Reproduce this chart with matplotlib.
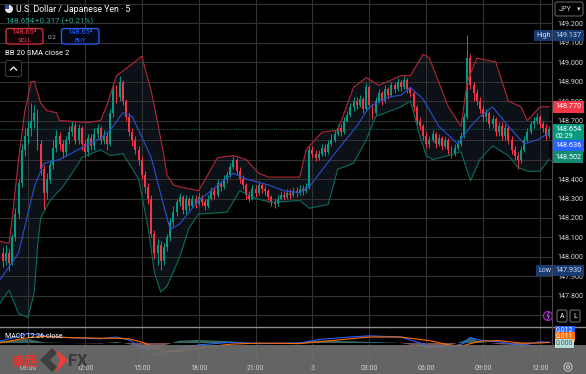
import numpy as np
import pandas as pd
import matplotlib
matplotlib.use('Agg')
import matplotlib.pyplot as plt
import matplotlib.transforms as mtransforms
from matplotlib.patches import Rectangle, FancyBboxPatch, Circle, Polygon

plt.rcParams['font.family'] = ['Roboto', 'Noto Sans CJK JP', 'DejaVu Sans']

# USD/JPY, 10-min candles starting 07:40
first_open = 148.02
close = [147.98, 148.02, 147.97, 148.10, 148.22, 148.38, 148.55, 148.62, 148.66, 148.70,
         148.74, 148.58, 148.45, 148.33, 148.40, 148.47, 148.56, 148.62, 148.58, 148.54,
         148.60, 148.64, 148.67, 148.60, 148.66, 148.58, 148.54, 148.61, 148.57, 148.63,
         148.66, 148.60, 148.62, 148.58, 148.74, 148.86, 148.82, 148.90, 148.80, 148.72,
         148.64, 148.60, 148.55, 148.50, 148.42, 148.36, 148.30, 148.12, 148.02, 148.06,
         147.98, 148.05, 148.10, 148.18, 148.23, 148.28, 148.31, 148.24, 148.30, 148.26,
         148.30, 148.27, 148.31, 148.28, 148.26, 148.30, 148.34, 148.32, 148.38, 148.36,
         148.40, 148.42, 148.46, 148.50, 148.44, 148.40, 148.37, 148.32, 148.30, 148.35,
         148.33, 148.37, 148.35, 148.34, 148.31, 148.28, 148.27, 148.30, 148.32, 148.31,
         148.33, 148.32, 148.34, 148.33, 148.35, 148.34, 148.36, 148.55, 148.53, 148.51,
         148.53, 148.56, 148.54, 148.58, 148.60, 148.63, 148.66, 148.64, 148.70, 148.73,
         148.77, 148.80, 148.78, 148.81, 148.76, 148.87, 148.78, 148.74, 148.80, 148.84,
         148.80, 148.86, 148.83, 148.88, 148.86, 148.90, 148.87, 148.91, 148.86, 148.84,
         148.77, 148.70, 148.67, 148.62, 148.58, 148.60, 148.63, 148.58, 148.61, 148.57,
         148.60, 148.55, 148.53, 148.56, 148.58, 148.62, 148.72, 149.02, 148.88, 148.84,
         148.80, 148.76, 148.72, 148.74, 148.68, 148.71, 148.64, 148.67, 148.62, 148.66,
         148.60, 148.55, 148.52, 148.50, 148.55, 148.60, 148.64, 148.68, 148.70, 148.72,
         148.68, 148.66, 148.62, 148.654]
high = [148.05, 148.06, 148.04, 148.12, 148.25, 148.40, 148.58, 148.66, 148.70, 148.79,
        148.78, 148.76, 148.60, 148.47, 148.43, 148.50, 148.60, 148.65, 148.64, 148.60,
        148.62, 148.67, 148.70, 148.69, 148.68, 148.67, 148.60, 148.63, 148.63, 148.66,
        148.68, 148.67, 148.65, 148.64, 148.76, 148.88, 148.88, 148.93, 148.91, 148.81,
        148.74, 148.66, 148.62, 148.57, 148.52, 148.44, 148.38, 148.32, 148.14, 148.09,
        148.08, 148.07, 148.12, 148.20, 148.26, 148.30, 148.33, 148.32, 148.32, 148.31,
        148.32, 148.32, 148.33, 148.32, 148.30, 148.32, 148.36, 148.36, 148.40, 148.39,
        148.42, 148.44, 148.48, 148.52, 148.51, 148.46, 148.42, 148.38, 148.34, 148.37,
        148.37, 148.39, 148.38, 148.37, 148.35, 148.32, 148.30, 148.32, 148.34, 148.34,
        148.35, 148.35, 148.36, 148.36, 148.37, 148.37, 148.38, 148.57, 148.57, 148.55,
        148.55, 148.58, 148.58, 148.60, 148.63, 148.65, 148.68, 148.68, 148.72, 148.75,
        148.79, 148.82, 148.82, 148.83, 148.82, 148.89, 148.88, 148.79, 148.82, 148.86,
        148.85, 148.88, 148.87, 148.90, 148.89, 148.92, 148.91, 148.93, 148.92, 148.87,
        148.85, 148.78, 148.72, 148.68, 148.64, 148.62, 148.65, 148.64, 148.63, 148.62,
        148.62, 148.61, 148.57, 148.58, 148.60, 148.64, 148.74, 149.137, 149.04, 148.90,
        148.86, 148.82, 148.78, 148.76, 148.75, 148.73, 148.72, 148.69, 148.69, 148.68,
        148.67, 148.62, 148.57, 148.54, 148.57, 148.62, 148.66, 148.70, 148.72, 148.74,
        148.73, 148.70, 148.68, 148.67]
low = [147.95, 147.96, 147.93, 147.96, 148.08, 148.20, 148.36, 148.52, 148.58, 148.62,
       148.66, 148.55, 148.42, 148.24, 148.30, 148.38, 148.45, 148.54, 148.55, 148.51,
       148.52, 148.58, 148.62, 148.58, 148.58, 148.55, 148.51, 148.52, 148.55, 148.55,
       148.61, 148.58, 148.58, 148.55, 148.57, 148.72, 148.79, 148.80, 148.78, 148.70,
       148.62, 148.57, 148.53, 148.47, 148.40, 148.33, 148.27, 148.10, 147.99, 147.96,
       147.934, 147.96, 148.03, 148.08, 148.16, 148.21, 148.26, 148.22, 148.22, 148.24,
       148.25, 148.25, 148.26, 148.26, 148.24, 148.25, 148.29, 148.30, 148.31, 148.34,
       148.35, 148.38, 148.41, 148.45, 148.42, 148.38, 148.35, 148.30, 148.28, 148.29,
       148.31, 148.32, 148.33, 148.32, 148.29, 148.26, 148.25, 148.26, 148.29, 148.29,
       148.30, 148.30, 148.31, 148.31, 148.32, 148.32, 148.33, 148.35, 148.51, 148.49,
       148.50, 148.52, 148.52, 148.53, 148.57, 148.59, 148.62, 148.62, 148.63, 148.69,
       148.72, 148.75, 148.76, 148.77, 148.74, 148.75, 148.76, 148.71, 148.73, 148.79,
       148.78, 148.79, 148.81, 148.82, 148.84, 148.85, 148.85, 148.86, 148.84, 148.82,
       148.75, 148.68, 148.65, 148.60, 148.56, 148.56, 148.59, 148.56, 148.57, 148.55,
       148.56, 148.53, 148.51, 148.52, 148.55, 148.57, 148.61, 148.71, 148.86, 148.80,
       148.78, 148.74, 148.70, 148.70, 148.66, 148.66, 148.62, 148.62, 148.60, 148.60,
       148.58, 148.53, 148.50, 148.45, 148.48, 148.54, 148.59, 148.63, 148.66, 148.68,
       148.66, 148.64, 148.60, 148.61]

# Bollinger bands (20, 2), positions in candle index
bb_upper_idx = [-1, 2, 3, 5, 7, 8, 9, 10, 12, 14, 17, 18, 27, 31, 33, 36, 41, 44, 47, 49, 51, 52,
                54, 56, 62, 68, 73, 77, 81, 84, 94, 96, 101, 106, 111, 115, 119, 126, 129, 133,
                135, 141, 145, 147, 150, 156, 160, 164, 166, 170, 173]
bb_upper = [148.08, 148.07, 148.20, 148.50, 148.75, 148.82, 148.90, 148.90, 148.79, 148.75, 148.74,
            148.70, 148.69, 148.70, 148.78, 148.93, 148.99, 149.03, 148.85, 148.69, 148.52, 148.42,
            148.37, 148.36, 148.34, 148.51, 148.52, 148.50, 148.43, 148.41, 148.41, 148.55, 148.64,
            148.65, 148.87, 148.92, 148.88, 148.93, 148.93, 149.04, 149.02, 148.77, 148.67, 148.90,
            149.02, 149.00, 148.80, 148.77, 148.70, 148.77, 148.77]
bb_mid_idx = [-1, 5, 10, 13, 18, 25, 31, 34, 38, 41, 47, 51, 53, 56, 62, 73, 77, 84, 89, 94, 97,
              105, 112, 116, 122, 126, 129, 133, 138, 144, 148, 151, 155, 160, 165, 169, 173]
bb_mid = [147.88, 148.02, 148.36, 148.48, 148.50, 148.56, 148.61, 148.65, 148.74, 148.72, 148.51,
          148.26, 148.14, 148.17, 148.29, 148.43, 148.40, 148.37, 148.34, 148.33, 148.36, 148.53,
          148.67, 148.77, 148.82, 148.83, 148.87, 148.81, 148.67, 148.58, 148.67, 148.72, 148.77,
          148.67, 148.58, 148.60, 148.636]
bb_lower_idx = [-1, 2, 5, 8, 10, 11, 12, 15, 19, 24, 25, 31, 34, 38, 43, 46, 48, 50, 52, 56, 59,
                62, 71, 75, 80, 85, 94, 97, 103, 106, 111, 115, 118, 126, 129, 132, 134, 136, 141,
                145, 148, 151, 155, 160, 163, 166, 170, 173]
bb_lower = [147.76, 147.83, 147.71, 147.69, 147.82, 148.05, 148.20, 148.29, 148.36, 148.48, 148.51,
            148.55, 148.52, 148.53, 148.40, 148.15, 147.92, 147.82, 147.85, 148.00, 148.15, 148.22,
            148.23, 148.34, 148.30, 148.28, 148.29, 148.25, 148.27, 148.45, 148.48, 148.60, 148.72,
            148.77, 148.80, 148.62, 148.52, 148.50, 148.52, 148.54, 148.39, 148.50, 148.57, 148.52,
            148.46, 148.44, 148.44, 148.502]

# MACD 12 26
macd_idx = [-1, 4, 8, 13, 21, 31, 36, 40, 45, 48, 51, 56, 62, 72, 81, 94, 100, 110, 116, 126,
            135, 142, 146, 148, 151, 157, 164, 170, 173]
macd = [0.03, 0.10, 0.16, 0.12, 0.09, 0.07, 0.10, 0.05, -0.10, -0.20, -0.18, -0.10, -0.03, 0.01,
        -0.01, 0.00, 0.06, 0.10, 0.12, 0.10, -0.05, -0.07, 0.00, 0.09, 0.05, 0.02, -0.04, 0.02, 0.012]
signal = [0.00, 0.05, 0.09, 0.11, 0.09, 0.08, 0.08, 0.07, 0.00, -0.08, -0.14, -0.14, -0.08, -0.02,
          0.00, -0.01, 0.02, 0.07, 0.10, 0.10, 0.04, -0.04, -0.04, -0.01, 0.03, 0.04, 0.00, 0.00, 0.011]

price_ticks = np.round(np.arange(147.7, 149.31, 0.1), 1)

W, H = 586, 374
UP, DOWN = '#089981', '#f23645'
GRID = '#333333'
TXT = '#d1d4dc'


def rect(x0, y0, x1, y1):
    return [x0 / W, 1 - y1 / H, (x1 - x0) / W, (y1 - y0) / H]


fig = plt.figure(figsize=(W / 100, H / 100), dpi=100, facecolor='black')
ax = fig.add_axes(rect(0, 0, 552, 327))
axm = fig.add_axes(rect(0, 327, 552, 360), sharex=ax)

c = np.array(close)
o = np.r_[first_open, c[:-1]]
hi, lo = np.array(high), np.array(low)
idx = np.arange(len(c))
times = pd.date_range('2023-10-02 07:40', periods=len(c), freq='10min')
cols = np.where(c >= o, UP, DOWN)

ax.set_facecolor('black')
band = np.vstack([np.column_stack([bb_upper_idx, bb_upper]),
                  np.column_stack([bb_lower_idx, bb_lower])[::-1]])
ax.add_patch(Polygon(band, closed=True, fc='#0c1117', ec='none', zorder=1))
ax.vlines(idx, lo, hi, colors=cols, lw=0.7, zorder=3)
ax.bar(idx, np.maximum(np.abs(c - o), 0.005), bottom=np.minimum(o, c), width=0.62,
       color=cols, lw=0, zorder=3)
ax.plot(bb_upper_idx, bb_upper, color='#b22833', lw=0.8, zorder=4)
ax.plot(bb_mid_idx, bb_mid, color='#2a4fd0', lw=0.8, zorder=4)
ax.plot(bb_lower_idx, bb_lower, color='#0b6e5a', lw=0.8, zorder=4)
ax.axhline(c[-1], color='#0b5e4e', lw=0.8, ls=(0, (1, 1)), zorder=2)

# time ticks every 3 hours
tick_mask = (times.minute == 0) & (times.hour % 3 == 0)
tick_pos = idx[tick_mask]
tick_lab = [str(t.day) if t.hour == 0 else t.strftime('%H:%M') for t in times[tick_mask]]

ax.set_xlim(-0.86, 173.8)
ax.set_ylim(147.641, 149.318)
ax.set_xticks(tick_pos)
ax.set_yticks(price_ticks)
hidden = (147.7, 148.5, 148.6, 149.3)
ax.set_yticklabels(['' if p in hidden else f'{p:.3f}' for p in price_ticks])
ax.yaxis.tick_right()
ax.tick_params(axis='y', length=0, pad=4, labelsize=5.2, labelcolor=TXT)
ax.tick_params(axis='x', length=0, labelbottom=False)
ax.grid(True, color=GRID, lw=0.8, zorder=0)
for s in ax.spines.values():
    s.set_visible(False)

axm.set_facecolor('black')
hist = np.array(macd) - np.array(signal)
axm.fill_between(macd_idx, 0, hist, where=hist >= 0, color='#6fc9b9', alpha=0.5, lw=0, interpolate=True)
axm.fill_between(macd_idx, 0, hist, where=hist < 0, color='#f7a1a8', alpha=0.5, lw=0, interpolate=True)
axm.plot(macd_idx, macd, color='#2962ff', lw=0.8)
axm.plot(macd_idx, signal, color='#ff6d00', lw=0.8)
axm.set_ylim(-0.283, 0.267)
axm.set_yticks([])
axm.tick_params(axis='x', length=0, labelbottom=False)
axm.grid(True, axis='x', color=GRID, lw=0.8)
for s in axm.spines.values():
    s.set_visible(False)

# right-side value boxes
tr = mtransforms.blended_transform_factory(ax.transAxes, ax.transData)


def vbox(y, s, fc, tc='white', dy=0, ls=1.0):
    t = mtransforms.offset_copy(tr, fig=fig, y=dy, units='dots')
    ax.text(1.006, y, s, transform=t, ha='left', va='center', fontsize=5.2, color=tc,
            linespacing=ls, clip_on=False, zorder=10,
            bbox=dict(boxstyle='square,pad=0.3', fc=fc, ec='none'))


vbox(bb_upper[-1], f'{bb_upper[-1]:.3f}', '#f23645')
vbox(c[-1], f'{c[-1]:.3f}\n02:29', '#089981', dy=-3.5, ls=1.1)
vbox(bb_mid[-1], f'{bb_mid[-1]:.3f}', '#2962ff', dy=-13)
vbox(bb_lower[-1], f'{bb_lower[-1]:.3f}', '#138a72', dy=2)
vbox(hi.max(), f'{hi.max():.3f}', '#173a70', tc='#cfd8ea')
vbox(lo.min(), f'{lo.min():.3f}', '#173a70', tc='#cfd8ea')
ax.text(0.998, hi.max(), 'High', transform=tr, ha='right', va='center', fontsize=5, color='#cfd8ea',
        zorder=10, bbox=dict(boxstyle='square,pad=0.3', fc='#173a70', ec='none'))
ax.text(0.998, lo.min(), 'Low', transform=tr, ha='right', va='center', fontsize=5, color='#cfd8ea',
        zorder=10, bbox=dict(boxstyle='square,pad=0.3', fc='#173a70', ec='none'))

# translucent grey strip over the bottom of the chart
fig.add_artist(Rectangle((0, 0), 1, 29 / H, transform=fig.transFigure,
                         fc='#707070', ec='none', alpha=0.9, zorder=4))

# overlay for interface pieces, in pixel units
ui = fig.add_axes([0, 0, 1, 1], zorder=5)
ui.set_xlim(0, W)
ui.set_ylim(H, 0)
ui.axis('off')
ui.patch.set_alpha(0)

ui.plot([0, W], [327, 327], color='#8c8c8c', lw=1)
ui.plot([552, 552], [0, 345], color='#4a4a4a', lw=0.8)

# MACD value tags
for y, s, fc, tc in [(330.5, f'{macd[-1]:.3f}', '#2962ff', 'white'),
                     (337, f'{signal[-1]:.3f}', '#ff6d00', 'white'),
                     (343.5, '0.000', '#b2dfdb', '#555555')]:
    ui.text(556, y, s, ha='left', va='center', fontsize=5, color=tc,
            bbox=dict(boxstyle='square,pad=0.15', fc=fc, ec='none'))

xt = mtransforms.blended_transform_factory(axm.transData, ui.transData)
for p, s in zip(tick_pos, tick_lab):
    ui.text(p, 368, s, transform=xt, ha='center', va='center', fontsize=5, color='#d0d0d0')

# logo
ui.text(12, 362, '東西', fontsize=9.5, color='#e8342c', fontweight='bold', va='center', ha='left',
        family=['Noto Sans CJK JP'])
ui.add_patch(Polygon([[40, 360], [52, 348], [57, 353], [50, 360], [57, 367], [52, 372]],
                     fc='#3d3d3d', ec='none'))
ui.add_patch(Polygon([[55, 349], [68, 360], [55, 373], [60, 360]], fc='#ee3b35', ec='none'))
ui.text(68, 361, 'FX', fontsize=12, color='#3a3a3a', fontweight='bold', va='center', ha='left')

# header
ui.add_patch(Circle((9, 9), 4, fc='#e8e8e8', ec='none'))
ui.add_patch(Rectangle((5, 5), 4, 4, fc='#2d4da8', ec='none'))
ui.text(16, 9, 'U.S. Dollar / Japanese Yen · 5', fontsize=6.3, color='white', va='center')
ui.text(5, 21, f'{c[-1]:.3f}', fontsize=5.8, color='#22ab94', va='center')
ui.text(35, 21, '+0.317 (+0.21%)', fontsize=5.8, color='#22ab94', va='center')
ui.add_patch(FancyBboxPatch((6, 28.5), 37, 15.5, boxstyle='round,pad=0,rounding_size=2.5',
                            fc='#120406', ec='#d8323f', lw=0.9))
ui.text(24.5, 32.5, '148.65⁴', fontsize=5.3, color='#f23645', ha='center', va='center')
ui.text(24.5, 40, 'SELL', fontsize=4.6, color='#f23645', ha='center', va='center')
ui.text(52, 37, '0.2', fontsize=4.6, color='#b0b0b0', ha='center', va='center')
ui.add_patch(FancyBboxPatch((61.5, 28.5), 37.5, 15.5, boxstyle='round,pad=0,rounding_size=2.5',
                            fc='#040818', ec='#2962ff', lw=0.9))
ui.text(80, 32.5, '148.65⁴', fontsize=5.3, color='#2962ff', ha='center', va='center')
ui.text(80, 40, 'BUY', fontsize=4.6, color='#2962ff', ha='center', va='center')
ui.text(5, 53, 'BB 20 SMA close 2', fontsize=5.5, color='white', va='center')
ui.add_patch(FancyBboxPatch((5.5, 60.5), 16, 16, boxstyle='round,pad=0,rounding_size=2',
                            fc='black', ec='#3a3a3a', lw=0.8))
ui.plot([10.5, 13.5, 16.5], [70, 67, 70], color='white', lw=0.9)
ui.text(5, 336, 'MACD 12 26 close', fontsize=5, color='white', va='center')

# right-side controls
ui.add_patch(FancyBboxPatch((555, 2), 28, 14, boxstyle='round,pad=0,rounding_size=2.5',
                            fc='black', ec='#5d606b', lw=0.8))
ui.text(559, 9, 'JPY', fontsize=5.2, color=TXT, va='center')
ui.text(579, 9.5, '▾', fontsize=5, color=TXT, va='center', ha='center')
for x0, s in [(557, 'A'), (570, 'L')]:
    ui.add_patch(FancyBboxPatch((x0, 310), 10, 12, boxstyle='round,pad=0,rounding_size=2',
                                fc='black', ec='#6a6a6a', lw=0.8))
    ui.text(x0 + 5, 316, s, fontsize=5, color='white', ha='center', va='center')
ui.add_patch(Circle((548, 316), 4.5, fc='#1a0a22', ec='#9c27b0', lw=0.9))
ui.plot([549, 547, 549.5, 547.5], [312.5, 316, 316, 319.5], color='#c04fe0', lw=0.7)
ui.add_patch(Circle((568, 367), 4, fc='none', ec='#bdbdbd', lw=0.8))
ui.add_patch(Circle((568, 367), 1.5, fc='none', ec='#bdbdbd', lw=0.8))

fig.savefig('out.png', dpi=100, facecolor='black')
